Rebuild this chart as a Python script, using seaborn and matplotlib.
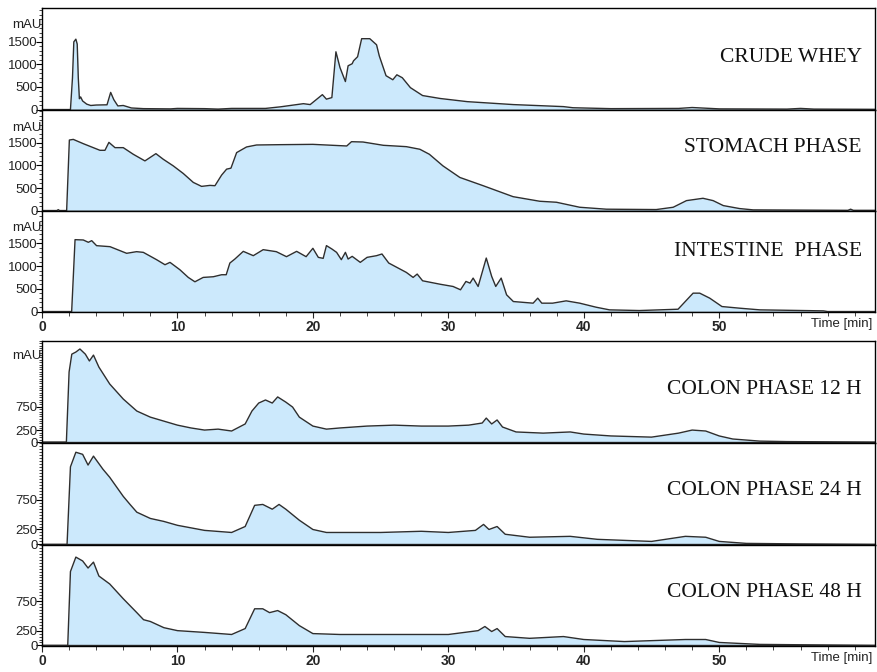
import matplotlib
matplotlib.use("Agg")
import matplotlib.pyplot as plt
from matplotlib.ticker import MultipleLocator, FixedLocator
import numpy as np
import pandas as pd
import seaborn as sns

# ---- chromatogram traces: retention time [min] and absorbance [mAU] ----
whey_t = [0, 2.1, 2.25, 2.35, 2.5, 2.6, 2.68, 2.76, 2.85, 3.0, 3.3, 3.6, 4.0, 4.8, 5.07, 5.3,
          5.6, 6.0, 6.6, 7.5, 9.5, 10, 12, 13, 14, 16.5, 17.6, 19.3, 19.8, 20.7, 21.0, 21.4,
          21.7, 22.0, 22.4, 22.6, 22.9, 23.0, 23.3, 23.6, 24.2, 24.7, 24.9, 25.4, 25.9, 26.2,
          26.6, 27.2, 28.1, 29.4, 31.4, 34.8, 38.5, 39.2, 42, 47, 48, 49, 50, 55, 56, 57, 61.5]
whey_mau = [0, 0, 700, 1500, 1560, 1450, 700, 240, 280, 190, 120, 90, 100, 105, 380, 220,
            80, 90, 35, 20, 15, 25, 20, 10, 25, 25, 60, 130, 110, 330, 230, 265,
            1280, 930, 620, 970, 1015, 1080, 1170, 1570, 1570, 1435, 1190, 750, 660, 770,
            705, 485, 310, 245, 175, 110, 65, 40, 20, 25, 45, 30, 15, 10, 25, 10, 5]

stomach_t = [0, 1.1, 1.2, 1.3, 1.82, 2.02, 2.31, 3.05, 4.28, 4.65, 4.94, 5.39, 6.0, 6.74, 7.6,
             8.41, 8.95, 9.69, 10.43, 11.17, 11.78, 12.4, 12.77, 13.26, 13.63, 13.95, 14.37,
             15.1, 15.84, 17.57, 20.0, 22.5, 22.85, 23.7, 25.2, 26.9, 27.9, 28.6, 29.6, 30.85,
             32.57, 34.78, 36.75, 37.98, 39.7, 41.67, 45.35, 46.6, 47.58, 48.8, 49.55, 50.3,
             51.5, 52.5, 59.5, 59.7, 59.9, 61.5]
stomach_mau = [0, 0, 20, 0, 0, 1564, 1578, 1483, 1336, 1336, 1512, 1395, 1395, 1248, 1101,
               1262, 1138, 991, 822, 624, 536, 558, 551, 786, 918, 940, 1285,
               1410, 1454, 1461, 1468, 1432, 1527, 1520, 1447, 1417, 1359, 1248, 991, 734,
               551, 308, 206, 184, 73, 30, 22, 73, 220, 272, 220, 110,
               44, 15, 5, 30, 5, 5]

intestine_t = [0, 2.19, 2.44, 3.05, 3.42, 3.67, 4.03, 5.02, 6.25, 6.98, 7.48, 8.46, 9.08, 9.45,
               10.18, 10.8, 11.29, 11.9, 12.65, 13.26, 13.6, 13.87, 14.24, 14.86, 15.6, 16.33,
               17.3, 18.05, 18.8, 19.5, 20.0, 20.4, 20.76, 21.0, 21.4, 21.75, 22.1, 22.4, 22.6,
               22.9, 23.5, 24.0, 24.7, 25.1, 25.6, 26.2, 26.9, 27.4, 27.7, 28.1, 29.4, 30.35,
               30.9, 31.3, 31.6, 31.83, 32.2, 32.8, 33.2, 33.5, 33.9, 34.3, 34.8, 36.26, 36.6,
               36.9, 37.7, 38.7, 39.7, 40.9, 41.9, 44.1, 46.96, 48.07, 48.56, 49.3, 50.2, 51.5,
               53.0, 57.7, 58, 61.5]
intestine_mau = [0, 0, 1580, 1573, 1522, 1558, 1448, 1426, 1280, 1316, 1301, 1140, 1029, 1081,
                 919, 750, 654, 750, 765, 809, 809, 1066, 1154, 1323, 1228, 1360,
                 1316, 1206, 1323, 1206, 1390, 1191, 1169, 1449, 1375, 1301, 1140, 1301, 1154,
                 1213, 1081, 1191, 1228, 1265, 1066, 971, 860, 750, 824, 676, 600, 551,
                 478, 662, 625, 735, 551, 1176, 772, 551, 735, 368, 220, 184, 294,
                 184, 184, 235, 184, 96, 37, 22, 51, 404, 404, 294, 110, 74,
                 37, 15, 0, 0]

colon12_t = [0, 1.8, 2.0, 2.2, 2.5, 2.8, 3.2, 3.5, 3.8, 4.2, 5, 6, 7, 8, 9, 10, 11, 12, 13, 14,
             15, 15.5, 16, 16.5, 17, 17.4, 18, 18.5, 19, 20, 21, 22, 24, 26, 28, 30, 31.5, 32.5,
             32.8, 33.2, 33.6, 34, 35, 37, 39, 40, 42, 45, 47, 48, 49, 50, 51, 53, 55, 61.5]
colon12_mau = [0, 0, 1490, 1870, 1915, 1980, 1870, 1725, 1850, 1595, 1235, 915, 660, 530, 445,
               360, 300, 255, 275, 235, 385, 660, 830, 895, 830, 960, 850, 745, 530, 340, 275,
               300, 340, 360, 340, 340, 360, 405, 510, 385, 470, 320, 215, 190, 215, 170, 130,
               105, 190, 255, 235, 130, 65, 20, 10, 0]

colon24_t = [0, 1.85, 2.1, 2.5, 3.0, 3.4, 3.8, 4.5, 5, 6, 6.5, 7, 8, 9, 10, 12, 14, 15, 15.7,
             16.3, 17, 17.5, 18, 19, 20, 21, 25, 28, 30, 32, 32.6, 33, 33.6, 34.2, 36, 39, 41,
             45, 47.5, 49, 50, 52, 56, 61.5]
colon24_mau = [0, 0, 1300, 1545, 1510, 1330, 1480, 1260, 1125, 805, 670, 540, 435, 385, 320,
               235, 200, 300, 655, 670, 590, 670, 590, 405, 250, 200, 200, 220, 200, 235, 335,
               250, 300, 170, 120, 135, 85, 50, 135, 120, 50, 17, 8, 0]

colon48_t = [0, 1.9, 2.1, 2.5, 3.0, 3.4, 3.8, 4.2, 5, 6, 7, 7.5, 8, 9, 10, 12, 14, 15, 15.7,
             16.3, 16.8, 17.4, 18, 19, 20, 22, 26, 30, 32.2, 32.7, 33.2, 33.6, 34.2, 36, 38.5,
             40, 43, 47.5, 49, 50, 53, 61.5]
colon48_mau = [0, 0, 1250, 1495, 1430, 1310, 1410, 1175, 1040, 790, 555, 435, 405, 300, 250,
               220, 185, 285, 620, 620, 555, 590, 520, 335, 200, 185, 185, 185, 250, 320, 235,
               285, 150, 120, 150, 100, 65, 100, 100, 50, 17, 0]

panel_titles = ["CRUDE WHEY", "STOMACH PHASE", "INTESTINE  PHASE",
                "COLON PHASE 12 H", "COLON PHASE 24 H", "COLON PHASE 48 H"]
top_yticks = [0, 500, 1000, 1500]
bottom_yticks = [0, 250, 750]
xtick_values = [0, 10, 20, 30, 40, 50]

traces = [(whey_t, whey_mau), (stomach_t, stomach_mau), (intestine_t, intestine_mau),
          (colon12_t, colon12_mau), (colon24_t, colon24_mau), (colon48_t, colon48_mau)]

# ---- styling ----
sns.set_theme(style="ticks")
plt.rcParams["font.family"] = ["Liberation Sans", "DejaVu Sans"]

FILL = "#cce9fc"
LINE = "#2e2e2e"
W, H = 877, 672
fig = plt.figure(figsize=(W / 100, H / 100), dpi=100)

# panel frames in pixel rows (top, bottom)
rows = [(8, 110), (110, 211), (211, 312), (341, 443), (443, 545), (545, 646)]
left_px, right_px = 42, 875
ylims = [(-10, 2250), (-10, 2230), (-10, 2210), (-20, 2150), (-10, 1700), (-10, 1700)]
title_y = [0.51, 0.625, 0.60, 0.52, 0.53, 0.53]
mau_y = [0.83, 0.82, 0.83, 0.85, None, None]

axes = []
for i, ((top, bot), (t, v)) in enumerate(zip(rows, traces)):
    ax = fig.add_axes([left_px / W, 1 - bot / H, (right_px - left_px) / W, (bot - top) / H])
    axes.append(ax)
    df = pd.DataFrame({"time": t, "mAU": v})
    ax.fill_between(df["time"], df["mAU"], 0, color=FILL, lw=0, zorder=1)
    sns.lineplot(data=df, x="time", y="mAU", ax=ax, color=LINE, lw=1.0, zorder=2,
                 estimator=None, sort=False)
    ax.axhline(0, color=LINE, lw=1.0, zorder=2)
    ax.set_xlim(0, 61.5)
    ax.set_ylim(*ylims[i])
    ax.set_xlabel("")
    ax.set_ylabel("")
    for s in ax.spines.values():
        s.set_color("black")
        s.set_linewidth(1.0)

    # y axis
    if i < 3:
        ax.yaxis.set_major_locator(FixedLocator(top_yticks))
        ax.yaxis.set_minor_locator(MultipleLocator(100))
    else:
        ax.yaxis.set_major_locator(FixedLocator(bottom_yticks))
        ax.yaxis.set_minor_locator(MultipleLocator(50))
    ax.tick_params(axis="y", which="major", direction="out", length=4, width=0.8,
                   pad=-1, labelsize=9.5, colors="black")
    ax.tick_params(axis="y", which="minor", direction="out", length=2, width=0.6)
    for lab in ax.get_yticklabels():
        lab.set_color("#222222")

    # x axis only on the bottom panel of each group
    ax.xaxis.set_major_locator(FixedLocator(xtick_values))
    ax.xaxis.set_minor_locator(MultipleLocator(2))
    if i in (2, 5):
        ax.tick_params(axis="x", which="major", direction="out", length=4, width=0.8,
                       pad=2, labelsize=10)
        ax.tick_params(axis="x", which="minor", direction="out", length=3, width=0.6)
        ax.set_xticklabels([str(x) for x in xtick_values], fontweight="bold")
        ax.text(0.997, -0.06, "Time [min]", transform=ax.transAxes, ha="right", va="top",
                fontsize=9.5, color="#222222")
    else:
        ax.tick_params(axis="x", which="both", length=0, labelbottom=False)

    if mau_y[i] is not None:
        ax.text(-0.001, mau_y[i], "mAU", transform=ax.transAxes, ha="right", va="center",
                fontsize=9.5, color="#222222")

    ax.text(0.984, title_y[i], panel_titles[i], transform=ax.transAxes, ha="right",
            va="center", fontsize=15.5, family=["Liberation Serif", "DejaVu Serif"],
            color="#111111")

fig.savefig("out.png", dpi=100)
